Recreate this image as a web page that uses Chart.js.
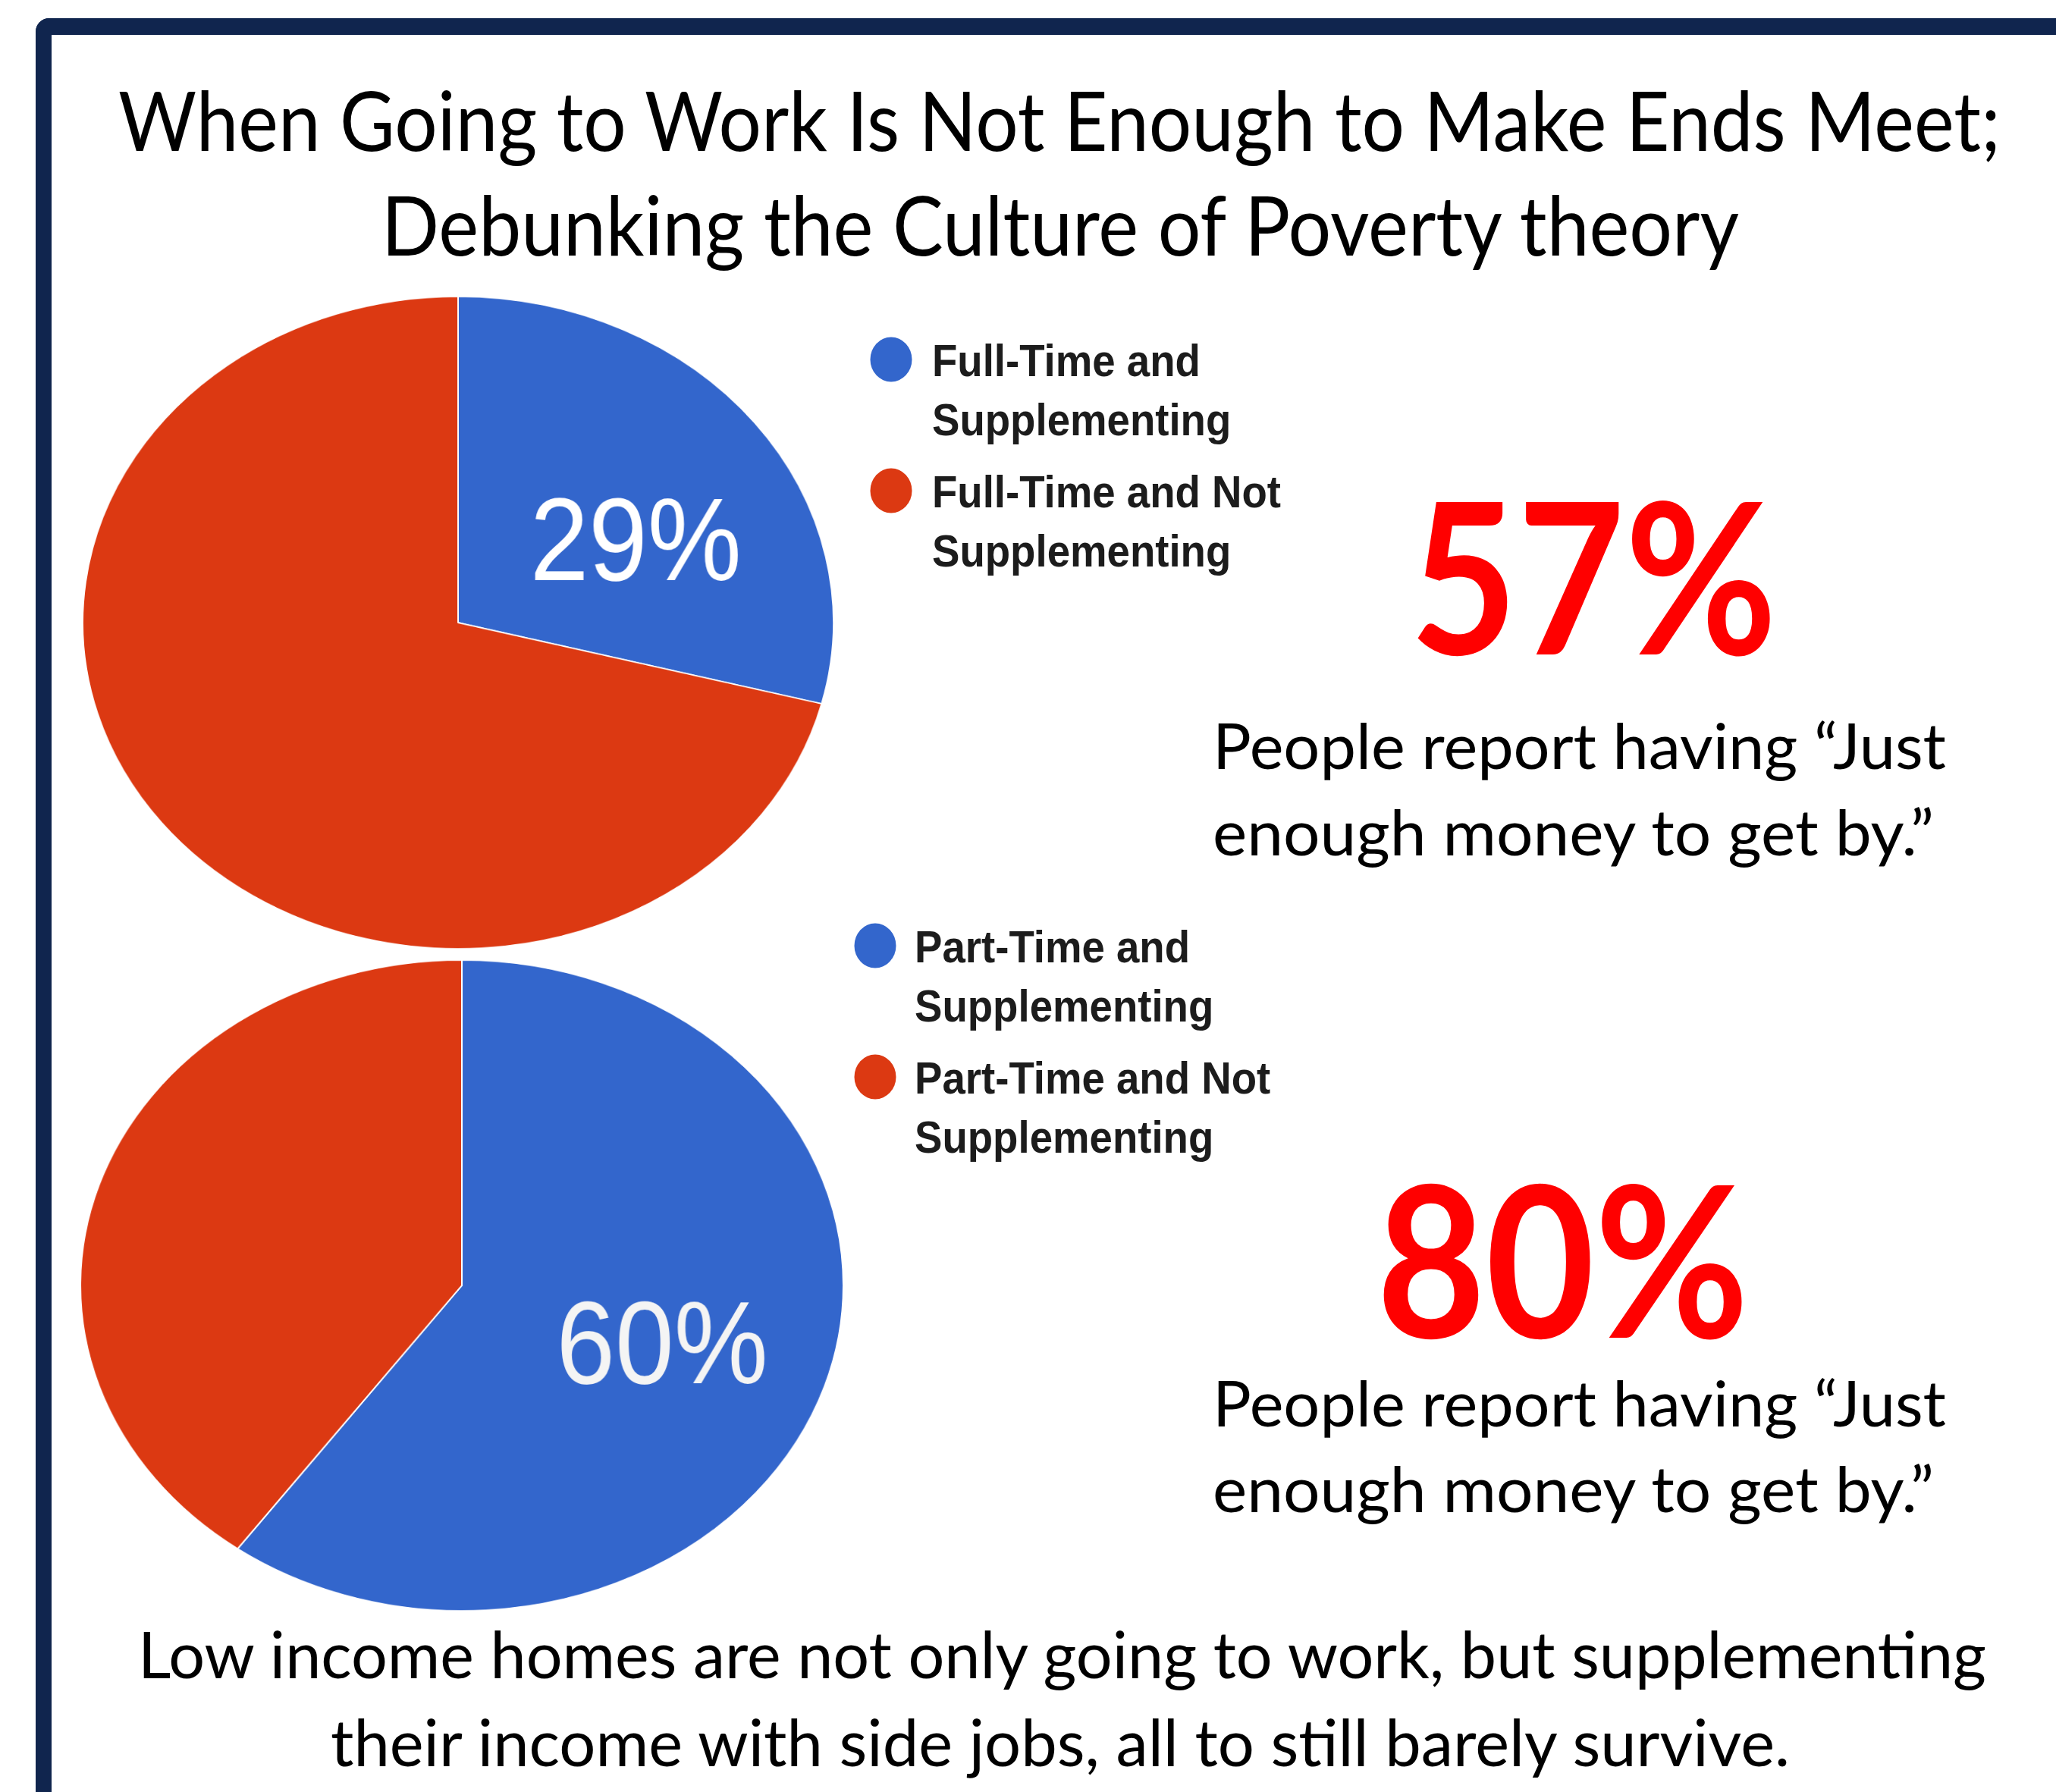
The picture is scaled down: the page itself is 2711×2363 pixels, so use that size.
<!DOCTYPE html>
<html>
<head>
<meta charset="utf-8">
<title>When Going to Work Is Not Enough to Make Ends Meet</title>
<script src="https://cdn.jsdelivr.net/npm/chart.js@4.4.1/dist/chart.umd.min.js"></script>
<style>
  html, body { margin: 0; padding: 0; background: #fff; }
  body { width: 2711px; height: 2363px; position: relative; overflow: hidden; }
  .frame {
    position: absolute; left: 47px; top: 24px; width: 3000px; height: 3000px;
    border-top: 22px solid #10254e; border-left: 21px solid #10254e;
    border-top-left-radius: 18px; box-sizing: border-box;
  }
  canvas.pie { position: absolute; }
  #overlay { position: absolute; left: 0; top: 0; }
</style>
</head>
<body>
<div class="frame"></div>
<canvas id="pieFull" class="pie" width="1000" height="1000"></canvas>
<canvas id="piePart" class="pie" width="1000" height="1000"></canvas>
<svg id="overlay" width="2711" height="2363" xmlns="http://www.w3.org/2000/svg"></svg>
<script>
// data
const fullTimeLabels = ["Full-Time and Supplementing", "Full-Time and Not Supplementing"];
const fullTimeValues = [29, 71];
const partTimeLabels = ["Part-Time and Supplementing", "Part-Time and Not Supplementing"];
const partTimeValues = [60, 40];
const sliceColors = ["#3366cc", "#dc3912"];
const justEnoughShares = ["57%", "80%"];

const SVGNS = "http://www.w3.org/2000/svg";
const overlay = document.getElementById("overlay");

// pie labels, drawn only on one slice, undoing the css stretch of the canvas
const sliceLabel = {
  id: "sliceLabel",
  afterDatasetsDraw(chart, args, opts) {
    const arc = chart.getDatasetMeta(0).data[opts.index];
    const value = chart.data.datasets[0].data[opts.index];
    const mid = (arc.startAngle + arc.endAngle) / 2 + (opts.nudge * Math.PI) / 180;
    const r = arc.outerRadius * opts.radius;
    const sx = chart.canvas.clientWidth / chart.width;
    const sy = chart.canvas.clientHeight / chart.height;
    const ctx = chart.ctx;
    ctx.save();
    ctx.translate(arc.x + Math.cos(mid) * r, arc.y + Math.sin(mid) * r);
    ctx.scale(0.9 / sx, 1 / sy);
    ctx.font = "155px 'Liberation Sans', Arial, sans-serif";
    ctx.fillStyle = opts.color;
    ctx.textAlign = "center";
    ctx.textBaseline = "alphabetic";
    ctx.fillText(value + "%", 0, (155 * 0.716) / 2);
    ctx.restore();
  },
};

function makePie(id, labels, values, box, labelOpts) {
  const canvas = document.getElementById(id);
  // the reference pies are ellipses: draw a circle and stretch the canvas
  canvas.style.left = box.cx - box.rx + "px";
  canvas.style.top = box.cy - box.ry + "px";
  canvas.style.width = box.rx * 2 + "px";
  canvas.style.height = box.ry * 2 + "px";
  return new Chart(canvas, {
    type: "pie",
    data: {
      labels: labels,
      datasets: [
        {
          data: values,
          backgroundColor: sliceColors,
          borderColor: "#ffffff",
          borderWidth: 2,
        },
      ],
    },
    options: {
      responsive: false,
      animation: false,
      layout: { padding: 0 },
      plugins: {
        legend: { display: false },
        tooltip: { enabled: false },
        sliceLabel: labelOpts,
      },
    },
    plugins: [sliceLabel],
  });
}

makePie("pieFull", fullTimeLabels, fullTimeValues, { cx: 604, cy: 821, rx: 496, ry: 431 },
  { index: 0, radius: 0.54, nudge: 9, color: "#ffffff" });
makePie("piePart", partTimeLabels, partTimeValues, { cx: 609, cy: 1695, rx: 504, ry: 430 },
  { index: 0, radius: 0.552, nudge: 0, color: "#f4f4f4" });

function addText(str, x, y, o) {
  const t = document.createElementNS(SVGNS, "text");
  t.setAttribute("x", x);
  t.setAttribute("y", y);
  t.setAttribute("font-family", o.family || "Lato, 'Open Sans', sans-serif");
  t.setAttribute("font-size", o.size);
  t.setAttribute("font-weight", o.weight || "normal");
  t.setAttribute("fill", o.color || "#000000");
  if (o.width) {
    t.setAttribute("textLength", o.width);
    t.setAttribute("lengthAdjust", "spacingAndGlyphs");
  }
  if (o.transform) t.setAttribute("transform", o.transform);
  t.textContent = str;
  overlay.appendChild(t);
  return t;
}

// title
addText("When Going to Work Is Not Enough to Make Ends Meet;", 156, 199, { size: 109, width: 2482 });
addText("Debunking the Culture of Poverty theory", 503, 337, { size: 109, width: 1790 });

// legends (google style, condensed bold arial)
const measure = document.createElement("canvas").getContext("2d");
const legendFont = "bold 60px 'Liberation Sans', Arial, sans-serif";
const legendSquash = 0.91;
function wrap(label, maxWidth) {
  measure.font = legendFont;
  const lines = [];
  let line = "";
  for (const word of label.split(" ")) {
    const test = line ? line + " " + word : word;
    if (line && measure.measureText(test).width * legendSquash > maxWidth) {
      lines.push(line);
      line = word;
    } else {
      line = test;
    }
  }
  lines.push(line);
  return lines;
}
function drawLegend(labels, dotX, textX, firstBaseline) {
  labels.forEach((label, i) => {
    const base = firstBaseline + i * 173;
    const dot = document.createElementNS(SVGNS, "ellipse");
    dot.setAttribute("cx", dotX);
    dot.setAttribute("cy", base - 22);
    dot.setAttribute("rx", 27.5);
    dot.setAttribute("ry", 29.5);
    dot.setAttribute("fill", sliceColors[i]);
    overlay.appendChild(dot);
    wrap(label, 520).forEach((line, k) => {
      addText(line, 0, 0, {
        family: "'Liberation Sans', Arial, sans-serif",
        size: 60,
        weight: "bold",
        color: "#1c1c1c",
        transform: `translate(${textX},${base + k * 78}) scale(${legendSquash},1)`,
      });
    });
  });
}
drawLegend(fullTimeLabels, 1175, 1229, 496);
drawLegend(partTimeLabels, 1154, 1206, 1269);

// call-outs
addText(justEnoughShares[0], 1859, 863, { size: 278, weight: "bold", color: "#ff0000", width: 484 });
addText("People report having \u201cJust", 1599, 1014, { size: 84, width: 967 });
addText("enough money to get by.\u201d", 1599, 1128, { size: 84, width: 951 });

addText(justEnoughShares[1], 1815, 1764, { size: 278, weight: "bold", color: "#ff0000", width: 491 });
addText("People report having \u201cJust", 1599, 1881, { size: 84, width: 967 });
addText("enough money to get by.\u201d", 1599, 1994, { size: 84, width: 951 });

// footer
addText("Low income homes are not only going to work, but supplementing", 182, 2213, { size: 86, width: 2437 });
addText("their income with side jobs, all to still barely survive.", 436, 2329, { size: 86, width: 1924 });
</script>
</body>
</html>
